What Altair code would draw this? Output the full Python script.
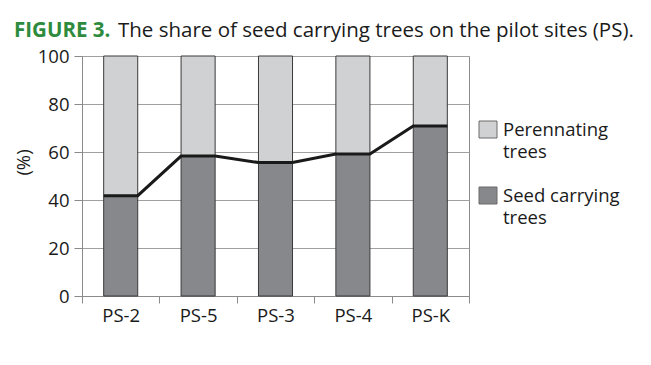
import altair as alt
import pandas as pd

sites = ["PS-2", "PS-5", "PS-3", "PS-4", "PS-K"]
seed_carrying = [41.8, 58.3, 55.6, 59.2, 70.8]
series_names = ["Perennating trees", "Seed carrying trees"]
colors = ["#d0d1d3", "#87888c"]
y_ticks = [0, 20, 40, 60, 80, 100]

HALF = 0.22
rows = []
for i, (s, v) in enumerate(zip(sites, seed_carrying)):
    rows.append({"site": s, "left": i + 0.5 - HALF, "right": i + 0.5 + HALF,
                 "seed": v, "top": 100, "zero": 0})
df = pd.DataFrame(rows)

line_rows = []
for i, (s, v) in enumerate(zip(sites, seed_carrying)):
    line_rows.append({"pos": i + 0.5 - HALF, "val": v, "ord": 2 * i})
    line_rows.append({"pos": i + 0.5 + HALF, "val": v, "ord": 2 * i + 1})
ldf = pd.DataFrame(line_rows)

one = pd.DataFrame({"k": [0]})

FONT = "Open Sans"
FS = 18.5
label_expr = "[" + ",".join(f"'{s}'" for s in sites) + "][floor(datum.value)]"

xscale = alt.Scale(domain=[0, len(sites)], nice=False, zero=False)
yscale = alt.Scale(domain=[0, 100], nice=False)

yaxis = alt.Axis(values=y_ticks, grid=True, gridColor="#a0a0a0", gridWidth=1,
                 domainColor="#8a8a8a", tickColor="#8a8a8a", tickSize=8,
                 labelFont=FONT, labelFontSize=FS, labelColor="#1a1a1a",
                 labelPadding=5, titleFont=FONT, titleFontSize=FS,
                 titleFontWeight="normal", titleColor="#1a1a1a",
                 titleX=-49, titleY=106, title="(%)")

x_lab = alt.X("left:Q", scale=xscale, title=None,
              axis=alt.Axis(orient="bottom", values=[i + 0.5 for i in range(len(sites))],
                            labelExpr=label_expr, ticks=False, domain=True,
                            domainColor="#8a8a8a", grid=False, title=None,
                            labelFont=FONT, labelFontSize=FS, labelColor="#1a1a1a",
                            labelPadding=10))

seed_bar = alt.Chart(df).mark_bar(color=colors[1], stroke="#3a3a3a", strokeWidth=1).encode(
    x=x_lab, x2="right:Q",
    y=alt.Y("seed:Q", scale=yscale, axis=yaxis, title="(%)"), y2="zero:Q"
)

per_bar = alt.Chart(df).mark_bar(color=colors[0], stroke="#3a3a3a", strokeWidth=1).encode(
    x=alt.X("left:Q", scale=xscale, axis=None), x2="right:Q",
    y=alt.Y("seed:Q", scale=yscale, axis=yaxis, title="(%)"), y2="top:Q"
)

line = alt.Chart(ldf).mark_line(color="#1a1a1a", strokeWidth=3).encode(
    x=alt.X("pos:Q", scale=xscale, axis=None),
    y=alt.Y("val:Q", scale=yscale, axis=yaxis, title="(%)"),
    order="ord:Q"
)

# tick marks at band boundaries (separate axis)
ticks_layer = alt.Chart(df).mark_point(opacity=0).encode(
    x=alt.X("left:Q", scale=xscale, title=None,
            axis=alt.Axis(orient="bottom", values=list(range(len(sites) + 1)), labels=False,
                          ticks=True, tickSize=7, tickColor="#8a8a8a", domain=False,
                          grid=False, title=None)),
    y=alt.Y("seed:Q", scale=yscale, axis=yaxis, title="(%)")
)

# title
t1 = alt.Chart(one).mark_text(text="FIGURE 3.", font=FONT, fontSize=20.5, fontWeight="bold",
                              color="#2e8b3e", align="left", baseline="alphabetic").encode(
    x=alt.value(-68), y=alt.value(-19))
t2 = alt.Chart(one).mark_text(text="The share of seed carrying trees on the pilot sites (PS).",
                              font=FONT, fontSize=20.5, fontWeight="normal", color="#1a1a1a",
                              align="left", baseline="alphabetic").encode(
    x=alt.value(36), y=alt.value(-19))

# legend
def legend_item(name, color, ytop):
    sq = alt.Chart(one).mark_rect(color=color, stroke="#6a6a6a", strokeWidth=1).encode(
        x=alt.value(397), x2=alt.value(415), y=alt.value(ytop), y2=alt.value(ytop + 17))
    words = name.rsplit(" ", 1)
    layers = [sq]
    for j, w in enumerate(words):
        layers.append(alt.Chart(one).mark_text(text=w, font=FONT, fontSize=FS,
                                               fontWeight="normal", color="#1a1a1a",
                                               align="left", baseline="middle").encode(
            x=alt.value(421), y=alt.value(ytop + 9 + 22 * j)))
    return alt.layer(*layers)

leg1 = legend_item(series_names[0], colors[0], 65)
leg2 = legend_item(series_names[1], colors[1], 131)

chart = alt.layer(seed_bar, per_bar, line, ticks_layer, t1, t2, leg1, leg2).resolve_axis(
    x="independent"
).properties(
    width=387, height=240,
    autosize=alt.AutoSizeParams(type="none"),
    padding={"left": 74, "top": 48, "right": 170, "bottom": 50}
).configure_view(stroke="#8a8a8a", strokeWidth=1)

chart.save("out.html", embed_options={"renderer": "svg", "actions": False})
